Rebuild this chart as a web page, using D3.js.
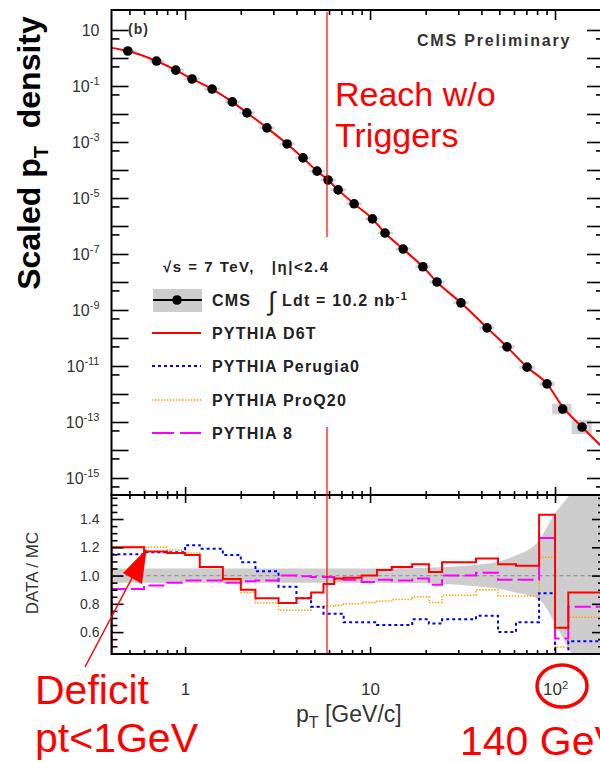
<!DOCTYPE html>
<html><head><meta charset="utf-8">
<script src="https://cdn.jsdelivr.net/npm/d3@7"></script>
<style>
body{margin:0;background:#fff}
svg{display:block}
text{font-family:"Liberation Sans",Arial,Helvetica,sans-serif}
</style>
</head><body>
<svg id="c" width="600" height="762"></svg>
<script>
// ---------------- DATA ----------------
// CMS measured spectrum (top panel)
const dataPt  = [0.49,0.70,0.89,1.09,1.40,1.80,2.16,2.77,3.56,4.34,5.17,5.93,6.72,8.2,10.3,12.05,15.1,19.3,23.0,31.0,42.9,55,70.6,90.5,110,140];
const dataVal = [1.78,0.78,0.37,0.178,0.078,0.027,0.011,3.2e-3,8.5e-4,2.7e-4,9.1e-5,4.4e-5,1.95e-5,6.2e-6,1.8e-6,5.6e-7,1.5e-7,3.5e-8,1.0e-8,1.8e-9,2.3e-10,4.8e-11,9.1e-12,2.3e-12,2.9e-13,6.6e-14];
const dataXLo = [0.45,0.64,0.81,0.99,1.27,1.64,1.97,2.52,3.24,3.95,4.7,5.4,6.1,7.46,9.37,11.0,13.7,17.6,20.9,28.2,39,50,64.2,82.4,96.5,123];
const dataXHi = [0.54,0.77,0.98,1.2,1.54,1.98,2.38,3.05,3.92,4.77,5.69,6.52,7.4,9.0,11.3,13.3,16.6,21.2,25.3,34.1,47.2,60.5,77.7,99.6,123,158];
const dataSysRel = [0.12,0.12,0.12,0.12,0.12,0.12,0.12,0.12,0.12,0.12,0.12,0.12,0.12,0.12,0.12,0.12,0.12,0.12,0.12,0.12,0.12,0.12,0.15,0.2,0.55,0.8];

// PYTHIA D6T curve (top panel)
const d6tPt  = [0.4,0.49,0.70,0.89,1.09,1.40,1.80,2.16,2.77,3.56,4.34,5.17,5.93,6.72,8.2,10.3,12.05,15.1,19.3,23.0,31.0,42.9,55,70.6,90.5,110,140,184];
const d6tVal = [2.3,1.78,0.78,0.37,0.178,0.078,0.027,0.011,3.2e-3,8.5e-4,2.7e-4,9.1e-5,4.4e-5,1.95e-5,6.2e-6,1.8e-6,5.6e-7,1.5e-7,3.5e-8,1.0e-8,1.8e-9,2.3e-10,4.8e-11,9.1e-12,2.3e-12,3.5e-13,6.6e-14,1.1e-14];

// Ratio panel: bin edges and DATA/MC values
const binEdges = [0.4,0.6,0.8,1.0,1.2,1.6,2.0,2.4,3.2,4.0,4.8,5.6,6.4,7.2,9.0,10.9,13.1,16.9,20.8,24.5,37.4,49.2,61.5,82,100,118,184];
const ratioD6T      = [1.20,1.17,1.16,1.145,1.06,0.975,0.90,0.84,0.805,0.84,0.88,0.94,0.98,0.985,1.0,1.04,1.06,1.08,1.025,1.095,1.12,1.08,1.07,1.43,0.63,0.88];
const ratioPerugia0 = [1.15,1.165,1.165,1.215,1.19,1.145,1.095,1.03,0.92,0.84,0.78,0.73,0.73,0.67,0.67,0.65,0.65,0.69,0.66,0.69,0.715,0.60,0.67,0.875,0.40,0.535];
const ratioProQ20   = [1.205,1.20,1.18,1.16,1.06,0.965,0.88,0.805,0.755,0.755,0.78,0.785,0.79,0.80,0.81,0.82,0.83,0.85,0.81,0.86,0.90,0.855,0.855,1.13,0.495,0.705];
const ratioP8       = [0.905,0.93,0.95,0.965,0.965,0.95,0.96,0.965,1.0,0.995,0.99,0.99,0.975,0.97,0.955,0.97,0.965,0.98,0.935,1.0,1.02,0.97,0.97,1.265,0.555,0.78];

// Data uncertainty band in ratio panel
const bandPt = [0.4,3,10,20,30,40,50,61,82,100,118,130,184];
const bandHi = [1.05,1.05,1.05,1.055,1.065,1.08,1.10,1.14,1.25,1.44,1.56,1.65,2.0];
const bandLo = [0.95,0.95,0.95,0.945,0.935,0.92,0.905,0.88,0.83,0.66,0.49,0.40,0.2];

// Tick definitions
const topMajorY = d3.range(-15,2).map(e=>Math.pow(10,e));
const topMinorY = d3.range(-16,1).map(e=>5*Math.pow(10,e));
const topLabelExp = [1,-1,-3,-5,-7,-9,-11,-13,-15];
const xMajor = [1,10,100];
const xMinor = [0.5,0.6,0.7,0.8,0.9,2,3,4,5,6,7,8,9,20,30,40,50,60,70,80,90];
const ratioMajor = [0.6,0.8,1.0,1.2,1.4];
const ratioMinor = [0.45,0.5,0.55,0.65,0.7,0.75,0.85,0.9,0.95,1.05,1.1,1.15,1.25,1.3,1.35,1.45,1.5,1.55];

const legendNames = ["CMS","PYTHIA D6T","PYTHIA Perugia0","PYTHIA ProQ20","PYTHIA 8"];
const reachPt = 5.85;

// ---------------- SCALES ----------------
const svg = d3.select("#c");
const L=111.5, R=604, T1=10, B1=495, T2=495, B2=654;
const x = d3.scaleLog().domain([0.4,184]).range([L,R]);
const yTop = d3.scaleLog().domain([2.47e-16,51.8]).range([B1,T1]);
const yBot = d3.scaleLinear().domain([0.445,1.57]).range([B2,T2]);

const defs = svg.append("defs");
defs.append("clipPath").attr("id","clipTop").append("rect").attr("x",L).attr("y",T1).attr("width",R-L).attr("height",B1-T1);
defs.append("clipPath").attr("id","clipBot").append("rect").attr("x",L).attr("y",T2).attr("width",R-L).attr("height",B2-T2);

const tickCol = "#000";
function styleAxis(g){ g.select(".domain").remove(); g.selectAll(".tick line").attr("stroke",tickCol).attr("stroke-width",1.6); }

// ---------------- TOP PANEL ----------------
const gTop = svg.append("g").attr("clip-path","url(#clipTop)");
gTop.selectAll("rect.sys").data(dataPt).join("rect").attr("class","sys")
  .attr("x",(d,i)=>x(dataXLo[i])).attr("width",(d,i)=>x(dataXHi[i])-x(dataXLo[i]))
  .attr("y",(d,i)=>yTop(dataVal[i]*(1+dataSysRel[i]))).attr("height",(d,i)=>yTop(dataVal[i]/(1+dataSysRel[i]))-yTop(dataVal[i]*(1+dataSysRel[i])))
  .attr("fill","#d2d2d2");
gTop.append("path").datum(d6tPt.map((p,i)=>[p,d6tVal[i]]))
  .attr("d",d3.line().x(d=>x(d[0])).y(d=>yTop(d[1])).curve(d3.curveMonotoneX))
  .attr("fill","none").attr("stroke","#ff0000").attr("stroke-width",2);
gTop.selectAll("circle.pt").data(dataPt).join("circle").attr("class","pt")
  .attr("cx",d=>x(d)).attr("cy",(d,i)=>yTop(dataVal[i])).attr("r",4.8).attr("fill","#000");

// top panel axes
const ayL = svg.append("g").attr("transform",`translate(${L},0)`)
  .call(d3.axisLeft(yTop).tickValues(topMajorY).tickSize(-17).tickPadding(12).tickFormat(""));
styleAxis(ayL);
ayL.selectAll(".tick text").each(function(d){
  const e = Math.round(Math.log10(d));
  const t = d3.select(this);
  if(!topLabelExp.includes(e)) return;
  t.attr("font-size","16px").attr("fill","#333");
  t.append("tspan").text("10");
  if(e!==1) t.append("tspan").attr("dy","-0.6em").attr("font-size","11px").text(String(e));
});
styleAxis(svg.append("g").attr("transform",`translate(${L},0)`)
  .call(d3.axisLeft(yTop).tickValues(topMinorY.filter(v=>v>2.47e-16&&v<51.8)).tickSize(-8).tickFormat("")));
styleAxis(svg.append("g").attr("transform",`translate(${R},0)`)
  .call(d3.axisRight(yTop).tickValues(topMajorY).tickSize(-17).tickFormat("")));
styleAxis(svg.append("g").attr("transform",`translate(${R},0)`)
  .call(d3.axisRight(yTop).tickValues(topMinorY.filter(v=>v>2.47e-16&&v<51.8)).tickSize(-8).tickFormat("")));
styleAxis(svg.append("g").attr("transform",`translate(0,${T1})`).call(d3.axisBottom(x).tickValues(xMajor).tickSize(10).tickFormat("")));
styleAxis(svg.append("g").attr("transform",`translate(0,${T1})`).call(d3.axisBottom(x).tickValues(xMinor).tickSize(5).tickFormat("")));
styleAxis(svg.append("g").attr("transform",`translate(0,${B1})`).call(d3.axisTop(x).tickValues(xMajor).tickSize(8).tickFormat("")));
styleAxis(svg.append("g").attr("transform",`translate(0,${B1})`).call(d3.axisTop(x).tickValues(xMinor).tickSize(4).tickFormat("")));

svg.append("rect").attr("x",L).attr("y",T1).attr("width",R-L).attr("height",B1-T1).attr("fill","none").attr("stroke","#000").attr("stroke-width",2);

svg.append("text").attr("x",128).attr("y",34).attr("font-size","14px").attr("font-weight","bold").attr("fill","#333").attr("letter-spacing","1px").text("(b)");
svg.append("text").attr("x",417).attr("y",46).attr("font-size","16px").attr("font-weight","bold").attr("fill","#333").attr("letter-spacing","1.8px").text("CMS Preliminary");

// legend
const lg = svg.append("g");
lg.append("text").attr("x",163).attr("y",272).attr("font-size","15px").attr("font-weight","bold").attr("fill","#222").attr("letter-spacing","1.5px")
  .attr("xml:space","preserve").text("\u221As = 7 TeV,   |\u03B7|<2.4");
const rowY = [300,333,366,400,433];
lg.append("rect").attr("x",153).attr("y",289).attr("width",49).attr("height",23).attr("fill","#cdcdcd");
lg.append("line").attr("x1",153).attr("x2",202).attr("y1",rowY[0]).attr("y2",rowY[0]).attr("stroke","#000").attr("stroke-width",2);
lg.append("circle").attr("cx",177).attr("cy",rowY[0]).attr("r",4.8).attr("fill","#000");
const lineStyles = [null,{c:"#ff0000",d:null,w:2},{c:"#0000ff",d:"3,3",w:2},{c:"#ffa500",d:"1.5,1.5",w:1.5},{c:"#ff00ff",d:"22,6",w:2}];
for(let i=1;i<5;i++){
  const s=lineStyles[i];
  lg.append("line").attr("x1",152).attr("x2",201).attr("y1",rowY[i]).attr("y2",rowY[i]).attr("stroke",s.c).attr("stroke-width",s.w).attr("stroke-dasharray",s.d);
}
legendNames.forEach((n,i)=>{
  lg.append("text").attr("x",212).attr("y",rowY[i]+6).attr("font-size","16px").attr("font-weight","bold").attr("fill","#222").attr("letter-spacing","1.2px").text(n);
});
lg.append("text").attr("x",268).attr("y",310).attr("font-size","26px").attr("fill","#222").text("\u222B");
const ldt = lg.append("text").attr("x",282).attr("y",306).attr("font-size","16px").attr("font-weight","bold").attr("fill","#222").attr("letter-spacing","1.2px");
ldt.append("tspan").text("Ldt = 10.2 nb");
ldt.append("tspan").attr("dy","-0.55em").attr("font-size","11px").text("-1");

// ---------------- BOTTOM PANEL ----------------
const gBot = svg.append("g").attr("clip-path","url(#clipBot)");
gBot.append("path").datum(bandPt.map((p,i)=>[p,bandLo[i],bandHi[i]]))
  .attr("d",d3.area().x(d=>x(d[0])).y0(d=>yBot(d[1])).y1(d=>yBot(d[2])).curve(d3.curveMonotoneX))
  .attr("fill","#cdcdcd");
gBot.append("line").attr("x1",L).attr("x2",R).attr("y1",yBot(1)).attr("y2",yBot(1))
  .attr("stroke","#999").attr("stroke-width",1.2).attr("stroke-dasharray","4,3");

function stepData(vals){
  const pts=[[binEdges[0],0.3]];
  vals.forEach((v,i)=>pts.push([binEdges[i],v]));
  pts.push([binEdges[binEdges.length-1],vals[vals.length-1]]);
  return pts;
}
const stepLine = d3.line().x(d=>x(d[0])).y(d=>yBot(d[1])).curve(d3.curveStepAfter);
const series = [
  {v:ratioProQ20,c:"#ffa500",d:"1.5,1.5",w:1.5},
  {v:ratioPerugia0,c:"#0000ff",d:"3,3",w:2},
  {v:ratioP8,c:"#ff00ff",d:"16,5",w:2},
  {v:ratioD6T,c:"#ff0000",d:null,w:2}
];
series.forEach(s=>{
  gBot.append("path").datum(stepData(s.v)).attr("d",stepLine)
    .attr("fill","none").attr("stroke",s.c).attr("stroke-width",s.w).attr("stroke-dasharray",s.d);
});

const abL = svg.append("g").attr("transform",`translate(${L},0)`)
  .call(d3.axisLeft(yBot).tickValues(ratioMajor).tickSize(-12).tickPadding(12).tickFormat(d3.format(".1f")));
styleAxis(abL);
abL.selectAll(".tick text").attr("font-size","14px").attr("fill","#333").attr("font-family","Liberation Sans, Arial, sans-serif");
styleAxis(svg.append("g").attr("transform",`translate(${L},0)`).call(d3.axisLeft(yBot).tickValues(ratioMinor).tickSize(-6).tickFormat("")));
styleAxis(svg.append("g").attr("transform",`translate(${R},0)`).call(d3.axisRight(yBot).tickValues(ratioMajor).tickSize(-12).tickFormat("")));
styleAxis(svg.append("g").attr("transform",`translate(${R},0)`).call(d3.axisRight(yBot).tickValues(ratioMinor).tickSize(-6).tickFormat("")));
styleAxis(svg.append("g").attr("transform",`translate(0,${T2})`).call(d3.axisBottom(x).tickValues(xMajor).tickSize(8).tickFormat("")));
styleAxis(svg.append("g").attr("transform",`translate(0,${T2})`).call(d3.axisBottom(x).tickValues(xMinor).tickSize(4).tickFormat("")));
styleAxis(svg.append("g").attr("transform",`translate(0,${B2})`).call(d3.axisTop(x).tickValues(xMinor).tickSize(4).tickFormat("")));
const abx = svg.append("g").attr("transform",`translate(0,${B2})`)
  .call(d3.axisBottom(x).tickValues(xMajor).tickSize(-7).tickPadding(29).tickFormat(""));
styleAxis(abx);
abx.selectAll(".tick text").each(function(d){
  const t=d3.select(this).attr("font-size","17px").attr("fill","#333");
  if(d===100){ t.append("tspan").text("10"); t.append("tspan").attr("dy","-0.55em").attr("font-size","11px").text("2"); }
  else t.append("tspan").text(String(d));
});
svg.append("rect").attr("x",L).attr("y",T2).attr("width",R-L).attr("height",B2-T2).attr("fill","none").attr("stroke","#000").attr("stroke-width",2);

// axis titles
const yt = svg.append("text").attr("transform","translate(40,153) rotate(-90)").attr("text-anchor","middle")
  .attr("font-size","32px").attr("font-weight","bold").attr("fill","#000");
yt.append("tspan").text("Scaled p");
yt.append("tspan").attr("dy","8").attr("font-size","20px").text("T");
yt.append("tspan").attr("dy","-8").attr("xml:space","preserve").text("  density");
svg.append("text").attr("transform","translate(38,573) rotate(-90)").attr("text-anchor","middle")
  .attr("font-size","17px").attr("fill","#333").text("DATA / MC");
const xt = svg.append("text").attr("x",296).attr("y",722).attr("font-size","23px").attr("fill","#333");
xt.append("tspan").text("p");
xt.append("tspan").attr("dy","6").attr("font-size","16px").text("T");
xt.append("tspan").attr("dy","-6").attr("xml:space","preserve").text(" [GeV/c]");

// ---------------- ANNOTATIONS ----------------
const xr = x(reachPt);
svg.append("line").attr("x1",xr).attr("x2",xr).attr("y1",12).attr("y2",237).attr("stroke","#ff0000").attr("stroke-width",1.2);
svg.append("line").attr("x1",xr).attr("x2",xr).attr("y1",427).attr("y2",653).attr("stroke","#ff0000").attr("stroke-width",1.2);
svg.append("text").attr("x",335).attr("y",106).attr("font-size","34px").attr("fill","#ff0000").text("Reach w/o");
svg.append("text").attr("x",335).attr("y",147).attr("font-size","34px").attr("fill","#ff0000").text("Triggers");

const tip=[x(0.62),yBot(1.19)];
svg.append("line").attr("x1",85).attr("y1",667).attr("x2",132).attr("y2",578).attr("stroke","#ff0000").attr("stroke-width",1.5);
svg.append("polygon").attr("points",`${tip[0]},${tip[1]} 123,573 142,584`).attr("fill","#ff0000");
svg.append("text").attr("x",35).attr("y",704).attr("font-size","41px").attr("fill","#ff0000").text("Deficit");
svg.append("text").attr("x",35).attr("y",752).attr("font-size","41px").attr("fill","#ff0000").text("pt<1GeV");
svg.append("ellipse").attr("cx",x(100)+7).attr("cy",686).attr("rx",25).attr("ry",21).attr("fill","none").attr("stroke","#ff0000").attr("stroke-width",3.5);
svg.append("text").attr("x",460).attr("y",755).attr("font-size","41px").attr("fill","#ff0000").text("140 GeV");
</script>
</body></html>
